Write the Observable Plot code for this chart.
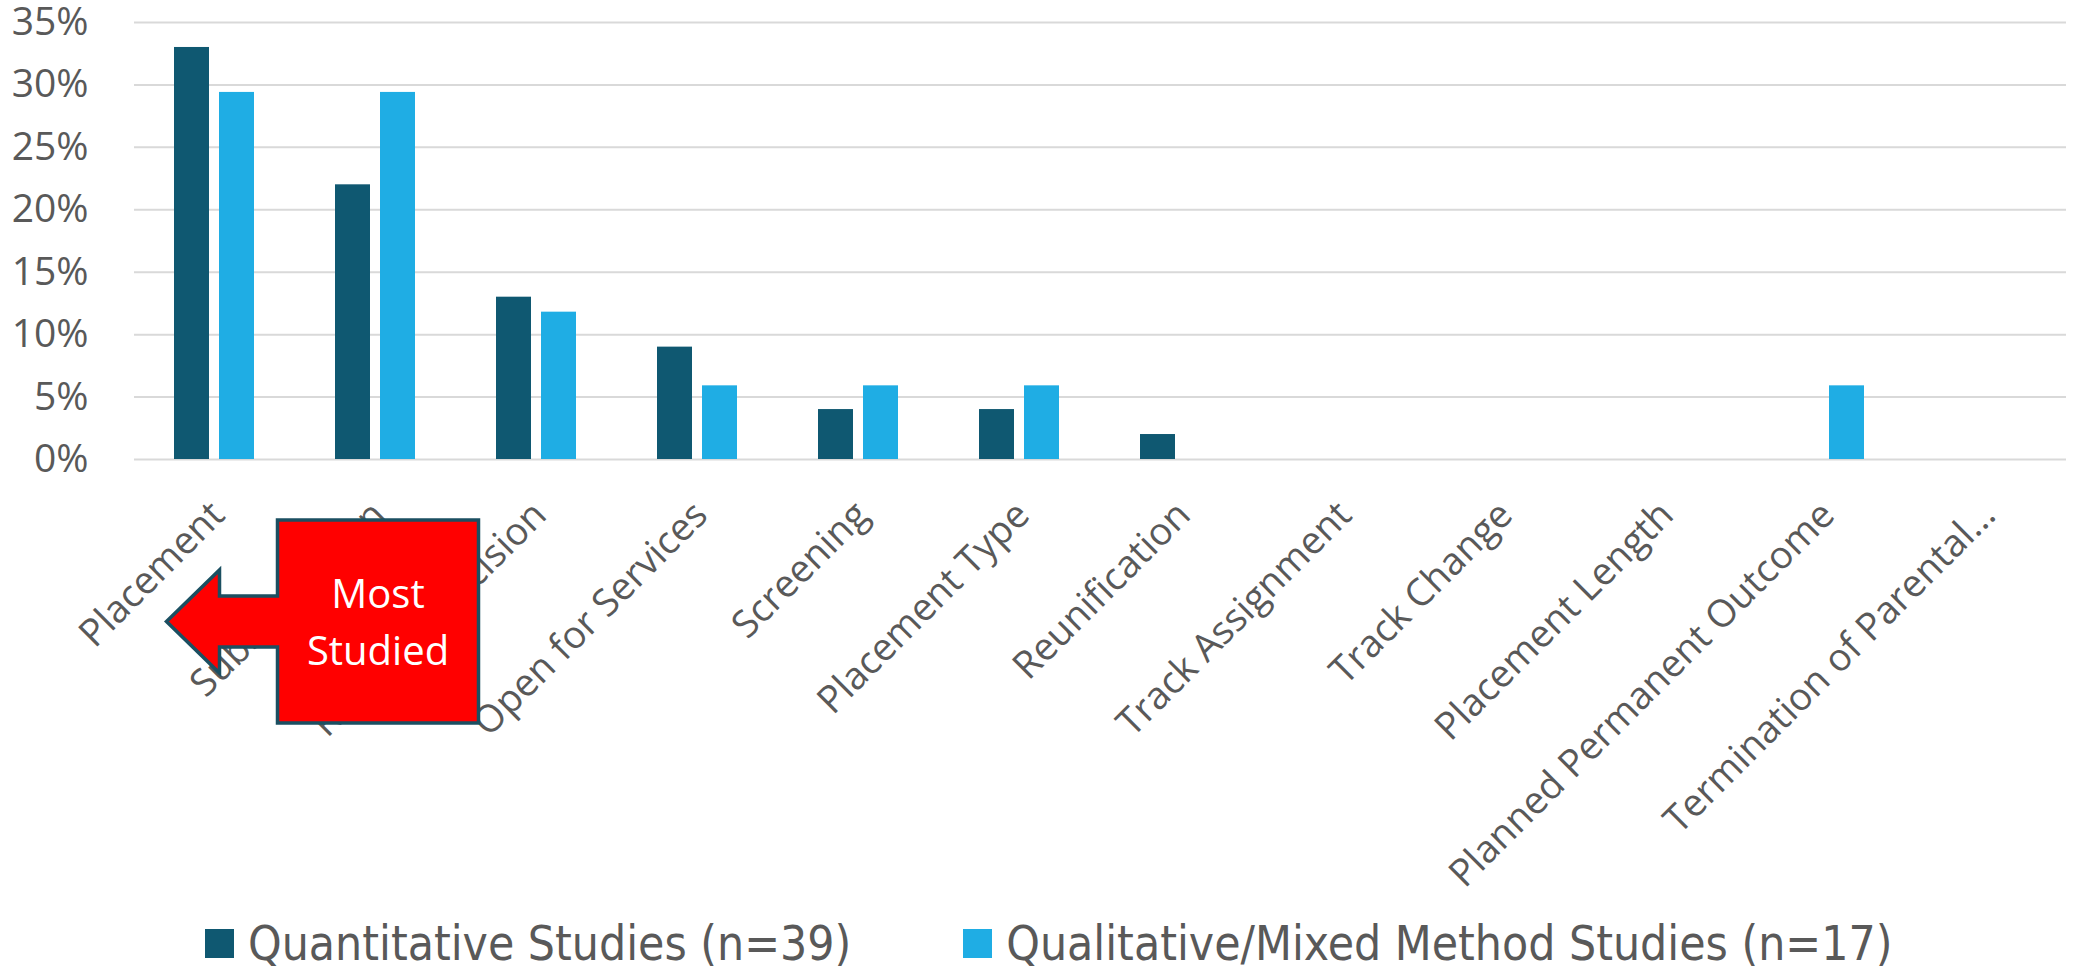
<!DOCTYPE html>
<html><head><meta charset="utf-8">
<script src="https://cdn.jsdelivr.net/npm/d3@7"></script>
<script src="https://cdn.jsdelivr.net/npm/@observablehq/plot@0.6"></script>
<style>
html,body{margin:0;padding:0;background:#fff;}
body{width:2073px;height:973px;overflow:hidden;font-family:"Open Sans",sans-serif;}
#legend{height:73px;box-sizing:border-box;padding-top:14px;padding-left:205px;display:flex;align-items:center;color:#595959;font-family:"Liberation Sans Narrow","DejaVu Sans Condensed",sans-serif;font-size:47.6px;}
.sw{width:29px;height:29px;display:inline-block;}
</style></head><body>
<div id="chart"></div>
<div id="legend"></div>
<script>
const categories = ["Placement","Substantiation","Removal Decision","Open for Services","Screening","Placement Type","Reunification","Track Assignment","Track Change","Placement Length","Planned Permanent Outcome","Termination of Parental..."];
const seriesNames = ["Quantitative Studies (n=39)","Qualitative/Mixed Method Studies (n=17)"];
const quantitative = [33,22,13,9,4,4,2,0,0,0,0,0];
const qualitative = [29.4,29.4,11.8,5.9,5.9,5.9,0,0,0,0,5.9,0];
const yTicks = [0,5,10,15,20,25,30,35];
const colors = ["#0F5871","#1FADE4"];
const calloutLines = ["Most","Studied"];

(function(){
const rows = categories.flatMap((c,i)=>[
  {category:c, series:seriesNames[0], value:quantitative[i]},
  {category:c, series:seriesNames[1], value:qualitative[i]}
]);

const chart = Plot.plot({
  width:2073, height:900,
  marginTop:22, marginBottom:441, marginLeft:132, marginRight:5,
  style:{fontFamily:"'Open Sans',sans-serif", color:"#595959", background:"#fff", overflow:"visible"},
  fx:{domain:categories, padding:0, label:null},
  x:{domain:seriesNames, paddingInner:0.217, paddingOuter:0.862, axis:null},
  y:{domain:[0,35], label:null, axis:null},
  color:{domain:seriesNames, range:colors},
  marks:[
    Plot.ruleY(yTicks, {stroke:"#d9d9d9", strokeWidth:2}),
    Plot.barY(rows, {fx:"category", x:"series", y:"value", fill:"series"}),
    Plot.axisY({ticks:yTicks, tickFormat:d=>d+"%", tickSize:0, tickPadding:46, fontSize:39, label:null, fill:"#595959", facetAnchor:"left"}),
    Plot.axisFx({anchor:"bottom", tickRotate:-45, tickSize:0, tickPadding:49, dx:3, fontSize:38, label:null, fill:"#595959"})
  ]
});
document.getElementById("chart").appendChild(chart);

// "Most Studied" callout arrow, anchored to the Placement band
const fx = chart.scale("fx");
const c0 = fx.apply(categories[0]) + fx.bandwidth/2;
const tipX = c0 - 48, headBase = c0 + 5, boxL = c0 + 63, boxR = c0 + 264;
const boxTop = 520, boxBottom = 723, mid = 621.5, shaftH = 25.5, headH = 51.5;
const svg = d3.select(chart.tagName.toLowerCase()==="svg" ? chart : chart.querySelector("svg"));
const g = svg.append("g");
g.append("path")
  .attr("d", `M${tipX},${mid} L${headBase},${mid-headH} L${headBase},${mid-shaftH} L${boxL},${mid-shaftH} L${boxL},${boxTop} L${boxR},${boxTop} L${boxR},${boxBottom} L${boxL},${boxBottom} L${boxL},${mid+shaftH} L${headBase},${mid+shaftH} L${headBase},${mid+headH} Z`)
  .attr("fill","#FF0000").attr("stroke","#1B4F61").attr("stroke-width",3.5).attr("stroke-linejoin","miter");
g.selectAll("text.c").data(calloutLines).join("text")
  .attr("x",(boxL+boxR)/2).attr("y",(d,i)=>608+i*57)
  .attr("text-anchor","middle").attr("fill","#fff")
  .attr("font-family","'Open Sans',sans-serif").attr("font-size",40)
  .text(d=>d);

// Legend
const leg = d3.select("#legend");
seriesNames.forEach((s,i)=>{
  leg.append("span").attr("class","sw").style("background",colors[i]).style("margin-right","14px").style("margin-left", i? "112px":"0");
  leg.append("span").text(s);
});
})();
</script>
</body></html>
